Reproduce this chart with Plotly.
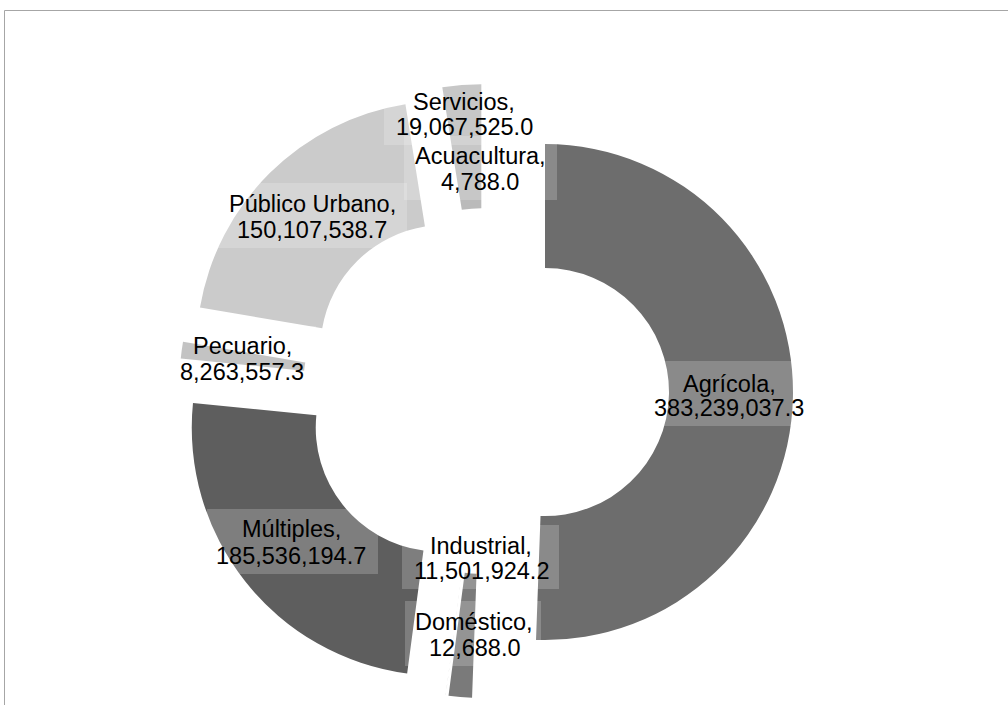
import plotly.graph_objects as go

# ---- data ----
categories = ["Agrícola", "Industrial", "Doméstico", "Múltiples", "Pecuario",
              "Público Urbano", "Servicios", "Acuacultura"]
volumes = [383239037.3, 11501924.2, 12688.0, 185536194.7, 8263557.3,
           150107538.7, 19067525.0, 4788.0]

# ---- style / layout ----
colors = ["#6d6d6d", "#7a7a7a", "#8a8a8a", "#5e5e5e", "#b5b5b5",
          "#cbcbcb", "#bababa", "#9a9a9a"]
W, H = 1008, 705
# label centre (px) for line 1 / line 2 and box extents (x0, x1, y0, y1) in px
label_layout = {
    "Servicios":      dict(x=464, y1=101, y2=126, box=(384, 543, 82, 145)),
    "Acuacultura":    dict(x=480, y1=155, y2=181, box=(404, 557, 136, 200)),
    "Público Urbano": dict(x=312, y1=203, y2=229, box=(216, 407, 183, 248)),
    "Pecuario":       dict(x=242, y1=345, y2=371, box=(168, 316, 326, 390)),
    "Agrícola":       dict(x=729, y1=383, y2=407, box=(641, 817, 361, 426)),
    "Múltiples":      dict(x=291, y1=528, y2=555, box=(207, 378, 509, 574)),
    "Industrial":     dict(x=481, y1=545, y2=570, box=(402, 559, 525, 589)),
    "Doméstico":      dict(x=474, y1=621, y2=647, box=(405, 541, 601, 666)),
}

fig = go.Figure(go.Pie(
    labels=categories,
    values=volumes,
    sort=False,
    direction="clockwise",
    rotation=0,
    hole=0.5,
    pull=[0.238] * len(categories),
    marker=dict(colors=colors, line=dict(width=0)),
    textinfo="none",
    hoverinfo="skip",
    showlegend=False,
    domain=dict(x=[179 / W, 793 / W], y=[(H - 698) / H, (H - 84) / H]),
))

def px(x):
    return x / W

def py(y):
    return 1 - y / H

shapes = [dict(type="rect", xref="paper", yref="paper",
               x0=px(4.5), x1=1.02, y0=-0.02, y1=py(10.5),
               line=dict(color="#a6a6a6", width=1), fillcolor="rgba(0,0,0,0)",
               layer="below")]
annotations = []
font = dict(family="Liberation Sans, Arial, sans-serif", size=23.5, color="#000000")
for cat, val in zip(categories, volumes):
    L = label_layout[cat]
    bx0, bx1, by0, by1 = L["box"]
    shapes.append(dict(type="rect", xref="paper", yref="paper",
                       x0=px(bx0), x1=px(bx1), y0=py(by1), y1=py(by0),
                       line=dict(width=0), fillcolor="rgba(255,255,255,0.2)",
                       layer="above"))
    for txt, yy in ((f"{cat},", L["y1"]), (f"{val:,.1f}", L["y2"])):
        annotations.append(dict(xref="paper", yref="paper", x=px(L["x"]), y=py(yy + 1),
                                text=txt, showarrow=False, xanchor="center",
                                yanchor="middle", font=font))

fig.update_layout(
    width=W, height=H,
    margin=dict(l=0, r=0, t=0, b=0),
    paper_bgcolor="#ffffff",
    plot_bgcolor="#ffffff",
    shapes=shapes,
    annotations=annotations,
)

fig.write_html("out.html",
               config={"displayModeBar": False},
               post_script="document.body.style.margin='0px';document.body.style.overflow='hidden';")
